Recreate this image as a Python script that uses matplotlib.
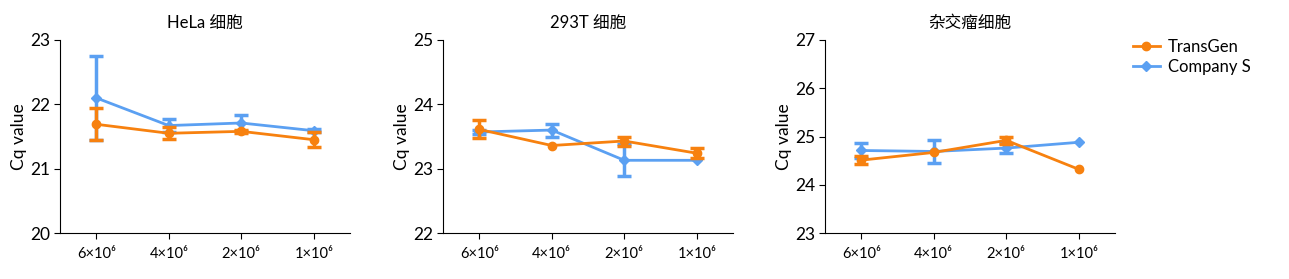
import numpy as np
import matplotlib
matplotlib.use("Agg")
import matplotlib.pyplot as plt

plt.rcParams['font.family'] = ['Lato', 'Noto Sans CJK SC', 'DejaVu Sans']

cells = ['6×10⁶', '4×10⁶', '2×10⁶', '1×10⁶']
titles = ['HeLa 细胞', '293T 细胞', '杂交瘤细胞']
ylims = [(20, 23), (22, 25), (23, 27)]

transgen = [[21.69, 21.55, 21.58, 21.45],
            [23.61, 23.36, 23.43, 23.24],
            [24.51, 24.67, 24.92, 24.32]]
transgen_err = [[0.25, 0.09, 0.02, 0.12],
                [0.14, 0.0, 0.07, 0.08],
                [0.08, 0.0, 0.07, 0.0]]
company = [[22.10, 21.67, 21.71, 21.59],
           [23.57, 23.60, 23.13, 23.13],
           [24.71, 24.69, 24.76, 24.88]]
company_err = [[0.65, 0.10, 0.13, 0.02],
               [0.03, 0.10, 0.25, 0.0],
               [0.15, 0.24, 0.10, 0.0]]

orange = '#F7810F'
blue = '#5BA0F2'


def draw(ax, x, y, err, color, marker, ms, label, z):
    y = np.array(y)
    err = np.array(err)
    line, = ax.plot(x, y, color=color, marker=marker, ms=ms, lw=2, label=label, zorder=z)
    keep = err > 0
    ax.errorbar(x[keep], y[keep], yerr=err[keep], fmt='none', ecolor=color,
                capsize=5, capthick=2.5, elinewidth=2.5, zorder=z)
    return line


fig = plt.figure(figsize=(12.89, 2.79), dpi=100)
lefts = [60, 443, 825]
x = np.arange(len(cells))
for i in range(3):
    ax = fig.add_axes([lefts[i] / 1289, 1 - 233 / 279, 290 / 1289, 193 / 279])
    hb = draw(ax, x, company[i], company_err[i], blue, 'D', 5, 'Company S', 2)
    ho = draw(ax, x, transgen[i], transgen_err[i], orange, 'o', 6, 'TransGen', 3)
    ax.set_xlim(-0.5, 3.5)
    ax.set_ylim(*ylims[i])
    ax.set_yticks(np.arange(ylims[i][0], ylims[i][1] + 1))
    ax.set_xticks(x)
    ax.set_xticklabels(cells, fontsize=10.5)
    ax.tick_params(axis='y', labelsize=12.5, length=4, pad=3)
    ax.tick_params(axis='x', length=4, pad=6)
    ax.spines['top'].set_visible(False)
    ax.spines['right'].set_visible(False)
    ax.set_ylabel('Cq value', fontsize=12.5, labelpad=2)
    ax.set_title(titles[i], fontsize=12, pad=9)
    if i == 2:
        fig.legend([ho, hb], ['TransGen', 'Company S'], loc='upper left',
                   bbox_to_anchor=(1118 / 1289, 1 - 24 / 279),
                   frameon=False, fontsize=12, handlelength=1.6, handletextpad=0.5,
                   labelspacing=0.25)

fig.savefig('out.png', dpi=100)
